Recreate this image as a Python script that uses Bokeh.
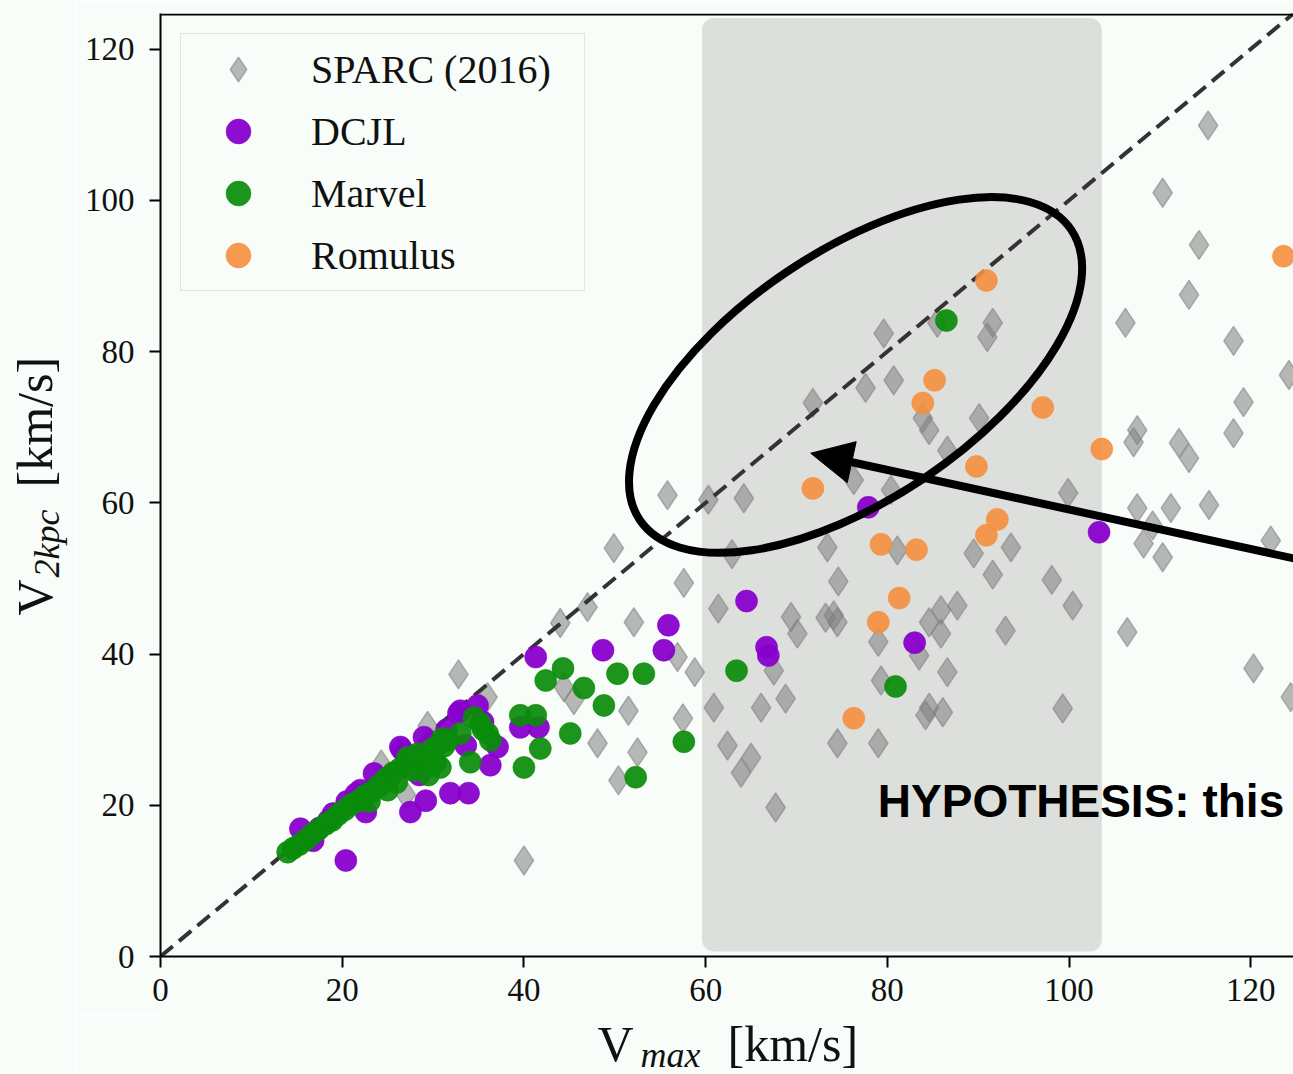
import math
from bokeh.plotting import figure
from bokeh.layouts import row, column
from bokeh.models import (Range1d, Legend, LegendItem, BoxAnnotation, Span, Label,
                          Arrow, NormalHead, FixedTicker)
from bokeh.embed import file_html
from bokeh.resources import INLINE

# ---------------- data ----------------
sparc_x = [24.3, 27.0, 29.4, 32.8, 36.0, 40.0, 44.0, 47.0, 44.4, 45.5, 49.9, 48.1, 50.4, 51.5, 52.5, 52.1, 55.8, 57.6, 56.9, 57.5, 58.8,
           60.3, 64.2, 62.9, 61.4, 60.9, 62.4, 65.0, 63.9, 66.1, 67.7, 67.5, 68.8, 69.4, 70.1, 71.8, 73.4, 73.2, 74.1, 74.5, 74.6,
           74.5, 76.3, 77.6, 79.6, 80.7, 80.4, 81.1, 79.0, 79.3, 79.0, 83.9, 84.6, 85.5, 86.6, 84.6, 85.9, 85.9, 87.7, 83.5, 86.6,
           84.6, 84.2, 86.1, 89.5, 90.1, 91.6, 91.0, 91.6, 93.6, 93.0, 98.1, 99.9, 100.4, 99.3,
           115.3, 110.3, 114.3, 113.2, 106.2, 118.1, 124.2, 119.2, 107.5, 107.1, 118.1, 112.1, 113.2, 107.5, 111.2, 115.4,
           109.2, 108.2, 110.3, 122.2, 106.4, 120.3, 124.4]
sparc_y = [25.4, 21.4, 30.5, 37.3, 34.3, 12.7, 44.1, 46.2, 35.6, 33.9, 54.0, 28.2, 23.3, 32.5, 27.0, 44.2, 61.0, 49.4, 39.6, 31.5, 37.6,
           60.4, 60.6, 53.2, 46.0, 32.9, 27.9, 26.3, 24.3, 32.9, 19.7, 37.8, 34.1, 44.9, 42.7, 73.2, 54.1, 44.8, 45.1, 44.2, 49.6,
           28.2, 63.0, 75.2, 82.4, 76.2, 61.7, 53.7, 41.6, 36.5, 28.2, 71.2, 69.6, 83.8, 66.9, 44.2, 45.8, 42.7, 46.4, 39.8, 37.6,
           32.9, 31.9, 32.3, 53.3, 71.2, 83.8, 81.9, 50.5, 54.1, 43.1, 49.8, 61.3, 46.4, 32.8,
           109.9, 101.0, 94.1, 87.5, 83.8, 81.4, 76.9, 73.3, 69.6, 68.0, 69.2, 67.9, 65.9, 59.3, 59.3, 59.7,
           57.0, 54.6, 52.8, 55.0, 42.9, 38.1, 34.3]

dcjl_x = [103.3, 77.9, 64.5, 66.7, 66.9, 83.0, 55.9, 55.4, 48.7, 41.3, 34.9, 32.8, 39.6, 41.6, 37.1, 36.3, 31.9, 33.9,
          27.5, 29.2, 20.4, 33.6, 26.4, 29.0, 22.6, 23.5, 26.6, 15.4, 16.8, 19.0, 18.5, 20.5, 21.5, 24.0, 25.5, 28.0,
          30.5, 31.5, 33.0, 35.5, 28.5, 17.5, 22.0]
dcjl_y = [56.1, 59.4, 47.0, 40.9, 39.8, 41.5, 43.8, 40.5, 40.5, 39.6, 33.2, 32.2, 30.3, 30.3, 27.7, 25.3, 21.6, 21.6,
          19.1, 20.6, 12.7, 27.9, 27.7, 29.0, 19.1, 24.2, 27.3, 16.9, 15.3, 18.9, 18.0, 20.5, 21.5, 22.5, 24.0, 26.5,
          28.0, 30.0, 32.5, 31.0, 24.0, 17.0, 22.0]

marvel_x = [86.5, 63.4, 80.9, 57.6, 52.3, 44.3, 42.4, 46.6, 50.3, 53.2, 48.8, 45.1, 41.8, 40.0, 39.6, 41.3, 35.2, 36.0,
            36.3, 34.5, 35.5, 34.1, 31.6, 31.2, 30.3, 30.8, 29.7, 28.6, 27.2, 25.0,
            14.0, 14.6, 15.3, 16.0, 16.7, 17.4, 18.2, 18.9, 19.6, 20.3, 21.0, 21.8, 22.5, 23.3, 24.0, 24.8, 25.6, 26.3,
            27.0, 27.8, 28.3, 29.0, 29.6, 30.0, 31.0, 29.5, 26.0, 23.0, 33.0]
marvel_y = [84.1, 37.8, 35.7, 28.4, 23.7, 38.1, 36.5, 35.5, 37.4, 37.4, 33.2, 29.5, 27.5, 25.0, 31.9, 31.9, 30.8, 29.5,
            28.6, 31.6, 30.0, 25.7, 28.6, 27.8, 25.7, 25.0, 26.9, 25.0, 26.3, 22.0,
            13.8, 14.3, 14.8, 15.4, 16.2, 16.8, 17.5, 18.0, 18.8, 19.4, 20.1, 20.6, 21.3, 21.8, 22.6, 23.5, 24.3, 24.8,
            25.5, 24.6, 26.8, 26.0, 25.2, 27.5, 28.8, 24.0, 23.0, 20.5, 29.5]

romulus_x = [90.9, 123.6, 85.2, 83.9, 97.1, 103.6, 89.8, 71.8, 92.1, 90.9, 79.3, 83.2, 81.3, 79.0, 76.3]
romulus_y = [89.4, 92.6, 76.2, 73.2, 72.6, 67.1, 64.8, 61.9, 57.8, 55.7, 54.5, 53.8, 47.4, 44.2, 31.5]

legend_labels = ["SPARC (2016)", "DCJL", "Marvel", "Romulus"]
tick_values = [0, 20, 40, 60, 80, 100, 120]

# ---------------- style ----------------
BG = "#f9fdf9"
SERIF = "Liberation Serif"
INK = "#111111"
XMAX, YMAX = 124.7, 124.7

# ---------------- main plot ----------------
p = figure(width=1218, height=1015, output_backend="svg", toolbar_location=None, title=None,
           x_range=Range1d(0, XMAX), y_range=Range1d(0, YMAX),
           min_border_left=85, min_border_right=0, min_border_top=13, min_border_bottom=59,
           background_fill_color=BG, border_fill_color=BG, outline_line_color=None)
p.grid.visible = False

for ax in (p.xaxis[0], p.yaxis[0]):
    ax.ticker = FixedTicker(ticks=tick_values)
    ax.axis_line_width = 2
    ax.axis_line_color = "black"
    ax.major_tick_line_width = 2
    ax.major_tick_line_color = "black"
    ax.major_tick_out = 11
    ax.major_tick_in = 0
    ax.minor_tick_line_color = None
    ax.major_label_text_font = SERIF
    ax.major_label_text_font_size = "33px"
    ax.major_label_text_color = INK
p.xaxis[0].major_label_standoff = 11
p.yaxis[0].major_label_standoff = 15

# top border
p.add_layout(Span(location=YMAX - 0.13, dimension="width", line_color="black", line_width=2))

# shaded region
p.add_layout(BoxAnnotation(left=59.6, right=103.6, bottom=0.66, top=124.1,
                           fill_color="#dcdfdb", fill_alpha=1.0, line_color=None,
                           border_radius=12, level="underlay"))

r_sparc = p.scatter(sparc_x, sparc_y, marker="diamond", size=29,
                    fill_color="gray", fill_alpha=0.55, line_color="gray", line_alpha=0.55, line_width=1.5)

p.line([0, XMAX + 5], [0, XMAX + 5], line_color="#333333", line_width=4, line_dash="16 8")

r_dcjl = p.scatter(dcjl_x, dcjl_y, marker="circle", size=22, fill_color="#8800cc", fill_alpha=0.95,
                   line_color="#8800cc", line_alpha=0.6, line_width=1)
r_marvel = p.scatter(marvel_x, marvel_y, marker="circle", size=22, fill_color="#0a8c0a", fill_alpha=0.92,
                     line_color="#0a8c0a", line_alpha=0.6, line_width=1)
r_rom = p.scatter(romulus_x, romulus_y, marker="circle", size=22, fill_color="#f58f3e", fill_alpha=0.9,
                  line_color="#f58f3e", line_alpha=0.6, line_width=1)

legend = Legend(items=[LegendItem(label=legend_labels[0], renderers=[r_sparc]),
                       LegendItem(label=legend_labels[1], renderers=[r_dcjl]),
                       LegendItem(label=legend_labels[2], renderers=[r_marvel]),
                       LegendItem(label=legend_labels[3], renderers=[r_rom])],
                location="top_left", margin=20, padding=4, spacing=0,
                glyph_width=106, glyph_height=62, label_standoff=20, label_width=269,
                label_text_font=SERIF, label_text_font_size="40px", label_text_color=INK,
                border_line_color="#cccccc", border_line_width=1.5,
                background_fill_color=BG, background_fill_alpha=0.85)
p.add_layout(legend)

# annotations: ellipse, arrow, text
p.ellipse(x=[76.5], y=[76.9], width=520, height=248, angle=0.592,
          width_units="screen", height_units="screen",
          fill_alpha=0, line_color="black", line_width=8)

p.add_layout(Arrow(end=NormalHead(size=42, fill_color="black", line_color="black"),
                   x_start=136.5, y_start=49.56, x_end=71.56, y_end=66.55,
                   line_color="black", line_width=8))

p.add_layout(Label(x=78.95, y=20.6, text="HYPOTHESIS: this", text_font="Liberation Sans",
                   text_font_style="bold", text_font_size="46px", text_color="black",
                   text_baseline="middle", text_align="left"))


# ---------------- axis titles (separate strips so nothing is clipped) ----------------
def strip(w, h):
    f = figure(width=w, height=h, output_backend="svg", toolbar_location=None, title=None,
               x_range=Range1d(0, 1), y_range=Range1d(0, 1), x_axis_type=None, y_axis_type=None,
               min_border=0, min_border_left=0, min_border_right=0, min_border_top=0, min_border_bottom=0,
               background_fill_color=BG, border_fill_color=BG, outline_line_color=None)
    f.grid.visible = False
    return f


# x title strip: its frame is aligned with the main frame (left edge at canvas x=160), bottom at 1074
xt = strip(1218, 59)
xt.add_layout(Label(x=437, y=31, x_units="screen", y_units="screen", text="V", text_font=SERIF,
                    text_font_size="50px", text_color=INK, text_baseline="middle"))
xt.add_layout(Label(x=480, y=19.5, x_units="screen", y_units="screen", text="max", text_font=SERIF,
                    text_font_style="italic", text_font_size="36px", text_color=INK, text_baseline="middle"))
xt.add_layout(Label(x=567, y=31, x_units="screen", y_units="screen", text="[km/s]", text_font=SERIF,
                    text_font_size="50px", text_color=INK, text_baseline="middle"))

# y title strip (full height, x from 0)
yt = strip(75, 1074)
yt.add_layout(Label(x=34, y=459, x_units="screen", y_units="screen", text="V", text_font=SERIF,
                    text_font_size="50px", text_color=INK, text_baseline="middle", angle=math.pi / 2))
yt.add_layout(Label(x=46.5, y=497, x_units="screen", y_units="screen", text="2kpc", text_font=SERIF,
                    text_font_style="italic", text_font_size="36px", text_color=INK,
                    text_baseline="middle", angle=math.pi / 2))
yt.add_layout(Label(x=34, y=587, x_units="screen", y_units="screen", text="[km/s]", text_font=SERIF,
                    text_font_size="50px", text_color=INK, text_baseline="middle", angle=math.pi / 2))

layout = row(yt, column(p, xt, spacing=0), spacing=0)
open("out.html", "w").write(file_html(layout, INLINE))
